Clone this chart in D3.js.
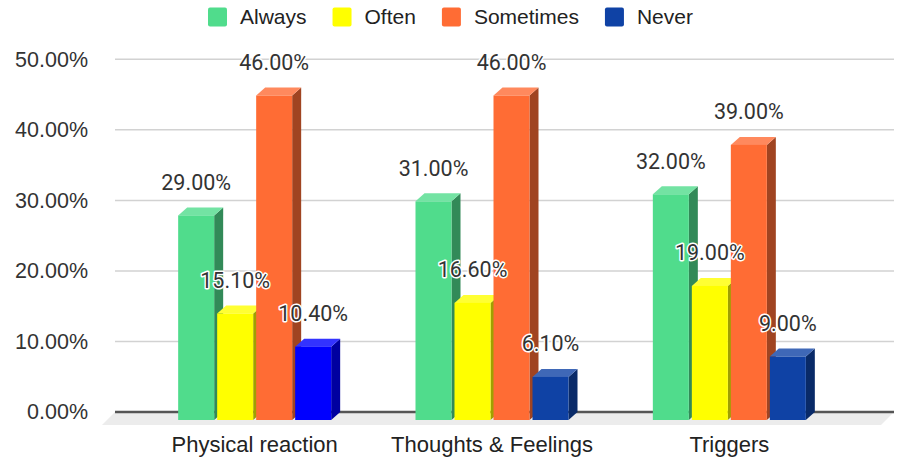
<!DOCTYPE html>
<html>
<head>
<meta charset="utf-8">
<script src="https://cdn.jsdelivr.net/npm/d3@7"></script>
<style>
  html, body { margin: 0; padding: 0; background: #fff; }
  svg { display: block; }
</style>
</head>
<body>
<svg id="chart" width="898" height="459"></svg>
<script>
// ---- data ----
const categories = ["Physical reaction", "Thoughts & Feelings", "Triggers"];
const seriesNames = ["Always", "Often", "Sometimes", "Never"];
const always    = [0.29, 0.31, 0.32];
const often     = [0.151, 0.166, 0.19];
const sometimes = [0.46, 0.46, 0.39];
const never     = [0.104, 0.061, 0.09];
const yTicks = [0, 0.1, 0.2, 0.3, 0.4, 0.5];

// ---- styling ----
const palette = {
  Always: "#50dc8c",
  Often: "#ffff00",
  Sometimes: "#ff6c34",
  Never: "#0f42a5"
};
// single-point colour override
const pointColors = { "Physical reaction|Never": "#0000ff" };

const depthX = 9, depthY = 8;
const axisFont = "'Liberation Sans', Arial, sans-serif";
const labelFont = "Roboto, 'Liberation Sans', sans-serif";

const values = { Always: always, Often: often, Sometimes: sometimes, Never: never };
const rows = categories.map((c, i) => ({
  category: c,
  bars: seriesNames.map(s => ({ series: s, category: c, value: values[s][i] }))
}));

const svg = d3.select("#chart");

const plotLeft = 115, plotRight = 894;
const y = d3.scaleLinear().domain([0, 0.5]).range([412, 59.3]);

const x = d3.scaleBand().domain(categories).range([136, 848]).padding(0);
const groupWidth = 153;
const xs = d3.scaleBand().domain(seriesNames).range([0, groupWidth])
  .paddingInner(3 / 39).paddingOuter(0);

// floor under the baseline
const y0 = y(0);
svg.append("polygon")
  .attr("points", [
    [plotLeft, y0], [plotRight, y0],
    [plotRight - 13, y0 + 13], [plotLeft - 13, y0 + 13]
  ].map(p => p.join(",")).join(" "))
  .attr("fill", "#ececec");

// gridlines
svg.append("g").selectAll("line")
  .data(yTicks.filter(t => t > 0))
  .join("line")
  .attr("x1", plotLeft).attr("x2", plotRight)
  .attr("y1", d => y(d)).attr("y2", d => y(d))
  .attr("stroke", "#d2d2d2").attr("stroke-width", 1.5);

// baseline
svg.append("line")
  .attr("x1", plotLeft).attr("x2", plotRight)
  .attr("y1", y0).attr("y2", y0)
  .attr("stroke", "#555").attr("stroke-width", 2.5);

// y axis
const yAxis = svg.append("g")
  .attr("transform", "translate(88,0)")
  .call(d3.axisLeft(y).tickValues(yTicks).tickFormat(d3.format(".2%")).tickSize(0).tickPadding(0));
yAxis.select(".domain").remove();
yAxis.selectAll("text")
  .attr("font-family", axisFont).attr("font-size", 21.5).attr("fill", "#333");

// x axis labels
const xAxis = svg.append("g")
  .attr("transform", "translate(0,436)")
  .call(d3.axisBottom(x).tickSize(0).tickPadding(0));
xAxis.select(".domain").remove();
xAxis.selectAll("text")
  .attr("font-family", axisFont).attr("font-size", 22).attr("fill", "#222");

// 3D bars
const groups = svg.append("g").selectAll("g")
  .data(rows)
  .join("g")
  .attr("transform", d => `translate(${x(d.category) + (x.bandwidth() - groupWidth) / 2},0)`);

const colorOf = d => pointColors[d.category + "|" + d.series] || palette[d.series];

const bar = groups.selectAll("g.bar")
  .data(d => d.bars)
  .join("g").attr("class", "bar");

bar.each(function (d) {
  const g = d3.select(this);
  const bw = xs.bandwidth();
  const x0 = xs(d.series);
  const top = y(d.value) + depthY;
  const bottom = y0 + depthY;
  const c = colorOf(d);
  const side = d3.color(c).darker(1.3).formatHex();
  const lid = d3.interpolateRgb(c, "#ffffff")(0.2);
  const pts = a => a.map(p => p.join(",")).join(" ");
  g.append("polygon")
    .attr("points", pts([[x0 + bw, top], [x0 + bw + depthX, top - depthY],
                         [x0 + bw + depthX, bottom - depthY], [x0 + bw, bottom]]))
    .attr("fill", side);
  g.append("polygon")
    .attr("points", pts([[x0, top], [x0 + depthX, top - depthY],
                         [x0 + bw + depthX, top - depthY], [x0 + bw, top]]))
    .attr("fill", lid);
  g.append("rect")
    .attr("x", x0).attr("y", top)
    .attr("width", bw).attr("height", bottom - top)
    .attr("fill", c);
});

// value labels
groups.selectAll("text.value")
  .data(d => d.bars)
  .join("text").attr("class", "value")
  .attr("x", d => xs(d.series) + xs.bandwidth() / 2)
  .attr("y", d => y(d.value) - 25)
  .attr("dy", "0.35em")
  .attr("text-anchor", "middle")
  .attr("font-family", labelFont).attr("font-size", 21.5)
  .attr("fill", "#333")
  .attr("stroke", "#fff").attr("stroke-width", 3).attr("stroke-linejoin", "round")
  .attr("paint-order", "stroke")
  .text(d => d3.format(".2%")(d.value));

// legend
const legend = svg.append("g").attr("transform", "translate(208,17)");
let lx = 0;
seriesNames.forEach(s => {
  legend.append("rect")
    .attr("x", lx).attr("y", -9.5).attr("width", 19).attr("height", 19)
    .attr("rx", 2).attr("fill", palette[s]);
  const t = legend.append("text")
    .attr("x", lx + 32).attr("y", 0).attr("dy", "0.35em")
    .attr("font-family", axisFont).attr("font-size", 21).attr("fill", "#222")
    .text(s);
  lx += 32 + t.node().getComputedTextLength() + 26;
});
</script>
</body>
</html>
